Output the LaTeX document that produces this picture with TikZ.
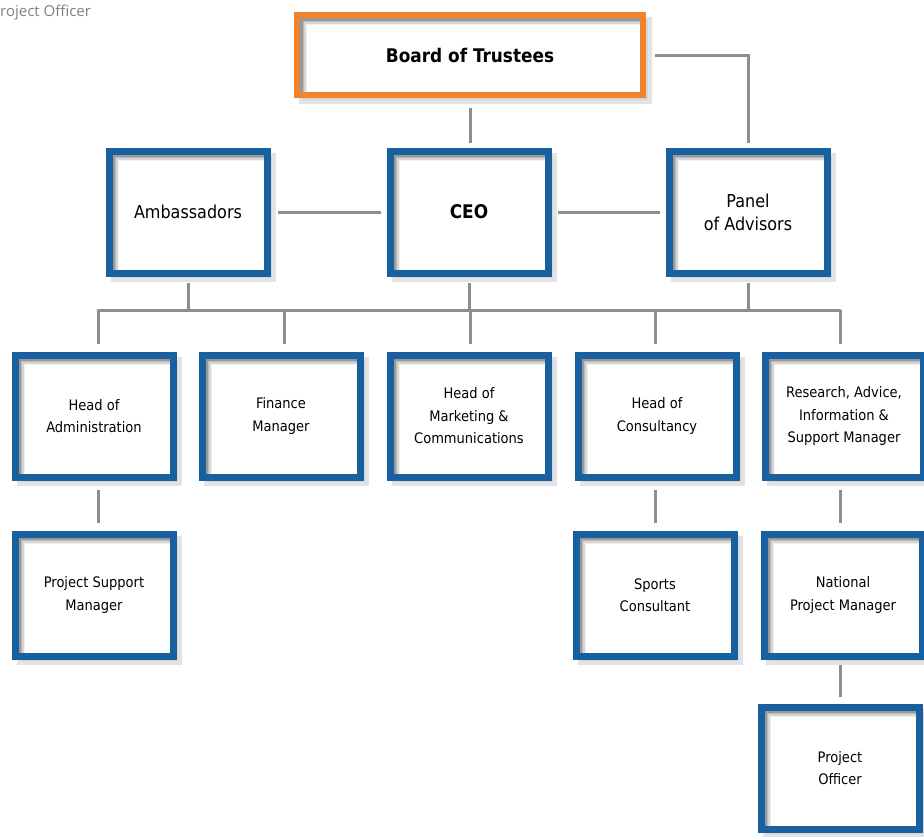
\documentclass[tikz,border=0pt]{standalone}
\usepackage{fontspec}
\setmainfont{DejaVu Sans Condensed}
\newfontfamily\notefont{Open Sans}
\usetikzlibrary{shadows}
\definecolor{boxblue}{RGB}{24,96,160}
\definecolor{boxorange}{RGB}{240,132,46}
\definecolor{linkgray}{RGB}{138,141,146}

% inner bevel along the top and left edges
\newcommand{\innerbevel}{%
  \foreach \d/\s in {10pt/6,8.5pt/16,7pt/27,5.5pt/40} {
    \fill [black!\s] (path picture bounding box.north west) rectangle ([yshift=-\d]path picture bounding box.north east);
    \fill [black!\s] (path picture bounding box.north west) rectangle ([xshift=\d]path picture bounding box.south west);
  }}

\tikzset{
  orgbox/.style={draw=boxblue, line width=7pt, fill=white, inner sep=0pt,
    minimum width=158pt, minimum height=122pt, align=center,
    font=\fontsize{14.5}{22.5}\selectfont,
    drop shadow={shadow xshift=5pt, shadow yshift=-5pt, fill=black!22, draw=black!22, line width=7pt},
    path picture={\innerbevel}},
  bigbox/.style={orgbox, font=\fontsize{17.8}{23}\selectfont},
  topbox/.style={orgbox, draw=boxorange, line width=6pt, minimum width=346pt, minimum height=80pt,
    font=\bfseries\fontsize{18.8}{23}\selectfont},
  link/.style={draw=linkgray, line width=3pt}
}

\begin{document}
\begin{tikzpicture}[x=1pt,y=-1pt]
\useasboundingbox (0,0) rectangle (924,836);

% Note
\node [anchor=base west, inner sep=0pt, text=black!50, font=\notefont\fontsize{15}{18}\selectfont] (note) at (0,16) {roject Officer};

% Boxes
\node [topbox] (bot) at (470,55) {Board of Trustees};

\node [bigbox] (amb) at (188,212) {Ambassadors};
\node [bigbox, font=\bfseries\fontsize{18.8}{23}\selectfont] (ceo) at (469,212) {CEO};
\node [bigbox] (pan) at (748,212) {Panel\\of Advisors};

\node [orgbox] (hadm) at (94,416) {Head of\\Administration};
\node [orgbox] (fin) at (281,416) {Finance\\Manager};
\node [orgbox] (mkt) at (469,416) {Head of\\Marketing \&\\Communications};
\node [orgbox] (hcon) at (657,416) {Head of\\Consultancy};
\node [orgbox] (rsm) at (844,416) {Research, Advice,\\Information \&\\Support Manager};

\node [orgbox] (psm) at (94,595) {Project Support\\Manager};
\node [orgbox] (spc) at (655,595) {Sports\\Consultant};
\node [orgbox] (npm) at (843,595) {National\\Project Manager};

\node [orgbox] (pof) at (840,768) {Project\\Officer};

% Connectors
\coordinate (bus) at (0,310);
\draw [link, shorten <=10pt, shorten >=5pt] (bot.south) -- (bot.south |- ceo.north);
\draw [link, shorten <=9pt, shorten >=5pt] (bot.east) -| (pan.north);
\draw [link, shorten <=7pt, shorten >=6pt] (amb.east) -- (ceo.west);
\draw [link, shorten <=6pt, shorten >=6pt] (ceo.east) -- (pan.west);

\foreach \n in {amb,ceo,pan} \draw [link, shorten <=6pt] (\n.south) -- (\n.south |- bus);
\draw [link, line cap=round] ([xshift=4pt]hadm.north |- bus) -- ([xshift=-4pt]rsm.north |- bus);
\foreach \n/\dx in {hadm/4pt,fin/3pt,mkt/1pt,hcon/-2pt,rsm/-4pt}
  \draw [link, shorten >=8pt] ([xshift=\dx]\n.north |- bus) -- ([xshift=\dx]\n.north);

\draw [link, shorten <=9pt, shorten >=8pt] ([xshift=4pt]hadm.south) -- ([xshift=4pt]hadm.south |- psm.north);
\draw [link, shorten <=9pt, shorten >=8pt] ([xshift=-2pt]hcon.south) -- ([xshift=-2pt]hcon.south |- spc.north);
\draw [link, shorten <=9pt, shorten >=8pt] ([xshift=-4pt]rsm.south) -- ([xshift=-4pt]rsm.south |- npm.north);
\draw [link, shorten <=5pt, shorten >=7pt] ([xshift=-3pt]npm.south) -- ([xshift=-3pt]npm.south |- pof.north);
\end{tikzpicture}
\end{document}
